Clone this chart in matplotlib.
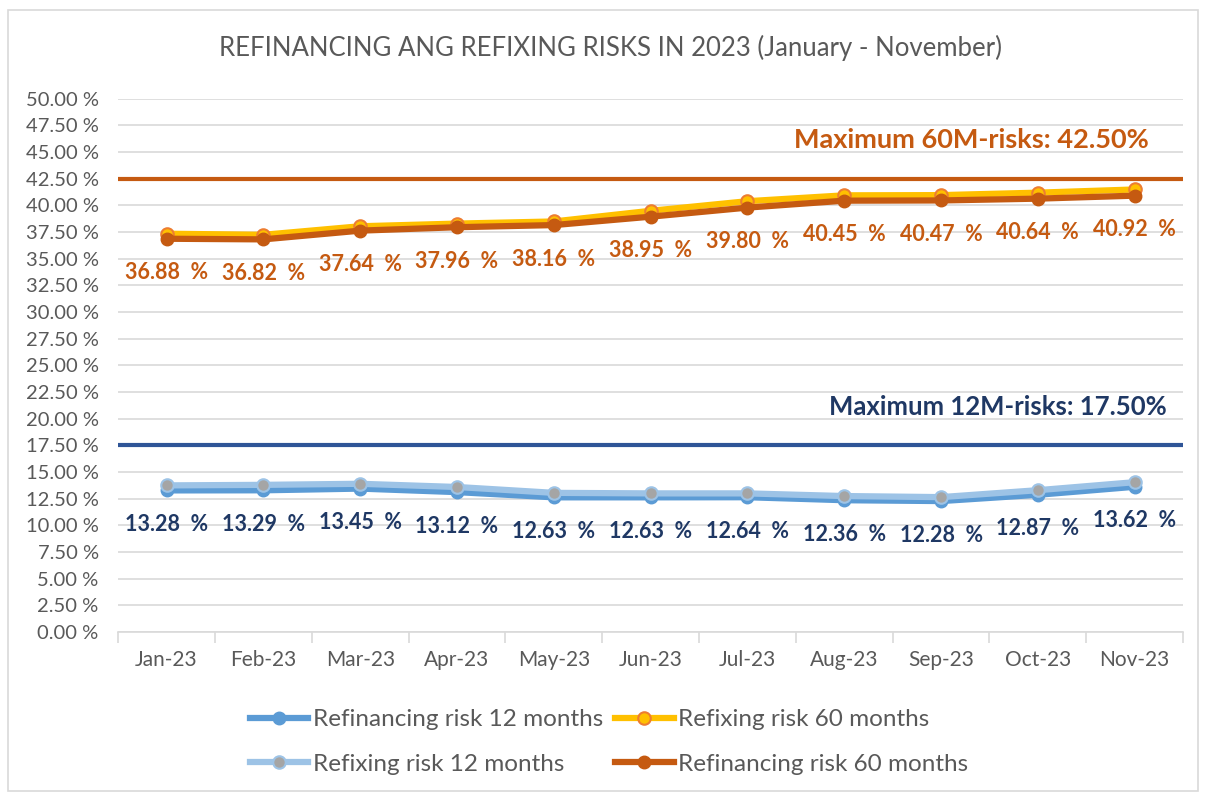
import matplotlib
matplotlib.use("Agg")
import matplotlib.pyplot as plt
from matplotlib.patches import Rectangle

plt.rcParams['font.family'] = ['Lato', 'DejaVu Sans']

months = ["Jan-23", "Feb-23", "Mar-23", "Apr-23", "May-23", "Jun-23",
          "Jul-23", "Aug-23", "Sep-23", "Oct-23", "Nov-23"]
refin_12 = [13.28, 13.29, 13.45, 13.12, 12.63, 12.63, 12.64, 12.36, 12.28, 12.87, 13.62]
refix_12 = [13.75, 13.80, 13.90, 13.60, 13.05, 13.00, 13.00, 12.75, 12.65, 13.30, 14.05]
refix_60 = [37.35, 37.25, 38.05, 38.30, 38.50, 39.50, 40.40, 40.95, 40.97, 41.20, 41.50]
refin_60 = [36.88, 36.82, 37.64, 37.96, 38.16, 38.95, 39.80, 40.45, 40.47, 40.64, 40.92]
max_12 = 17.50
max_60 = 42.50
yticks = [i * 2.5 for i in range(21)]

fig = plt.figure(figsize=(12.06, 7.97), dpi=100)
ax = fig.add_axes([0.098, 0.207, 0.883, 0.669])

# chart border
fig.patches.append(Rectangle((0.007, 0.008), 0.986, 0.98, transform=fig.transFigure,
                             fill=False, edgecolor="#d9d9d9", lw=1.2))

x = list(range(len(months)))

ax.axhline(max_12, color="#2f5597", lw=3, zorder=3)
ax.axhline(max_60, color="#c55a11", lw=3, zorder=3)

l1, = ax.plot(x, refin_12, color="#5b9bd5", lw=4.5, marker="o", ms=9,
              mfc="#5b9bd5", mec="#5b9bd5", zorder=4, label="Refinancing risk 12 months")
l2, = ax.plot(x, refix_12, color="#9dc3e6", lw=4.5, marker="o", ms=9,
              mfc="#a5a5a5", mec="#9dc3e6", mew=1.5, zorder=5, label="Refixing risk 12 months")
l3, = ax.plot(x, refix_60, color="#ffc000", lw=4.5, marker="o", ms=9,
              mfc="#ffc000", mec="#ed7d31", mew=1.5, zorder=4, label="Refixing risk 60 months")
l4, = ax.plot(x, refin_60, color="#c55a11", lw=4.5, marker="o", ms=9,
              mfc="#c55a11", mec="#c55a11", zorder=5, label="Refinancing risk 60 months")

for xi, v in zip(x, refin_12):
    ax.annotate(f"{v:.2f}  %", (xi, v), xytext=(0, -24.5), textcoords="offset points",
                ha="center", va="center", fontsize=15.5, fontweight="bold", color="#1f3864")
for xi, v in zip(x, refin_60):
    ax.annotate(f"{v:.2f}  %", (xi, v), xytext=(0, -24.5), textcoords="offset points",
                ha="center", va="center", fontsize=15.5, fontweight="bold", color="#c55a11")

ax.text(0.968, max_60 + 3.6, "Maximum 60M-risks: 42.50%", transform=ax.get_yaxis_transform(),
        ha="right", va="center", fontsize=19.5, fontweight="bold", color="#c55a11")
ax.text(0.985, max_12 + 3.6, "Maximum 12M-risks: 17.50%", transform=ax.get_yaxis_transform(),
        ha="right", va="center", fontsize=18.5, fontweight="bold", color="#1f3864")

ax.set_xlim(-0.5, len(months) - 0.5)
ax.set_ylim(0, 50)
ax.set_yticks(yticks)
ax.set_yticklabels([f"{t:.2f} %" for t in yticks])
ax.grid(axis="y", color="#d9d9d9", lw=1.2, zorder=0)
ax.set_axisbelow(True)
ax.set_xticks(x)
ax.set_xticklabels(months)
ax.set_xticks([i - 0.5 for i in range(len(months) + 1)], minor=True)
ax.tick_params(axis="x", which="major", length=0, pad=13, labelsize=15, labelcolor="#595959")
ax.tick_params(axis="x", which="minor", length=8, color="#d9d9d9", width=1.2)
ax.tick_params(axis="y", length=0, pad=14, labelsize=14.5, labelcolor="#595959")
for s in ["top", "right", "left"]:
    ax.spines[s].set_visible(False)
ax.spines["bottom"].set_color("#d9d9d9")
ax.spines["bottom"].set_linewidth(1.2)

fig.text(0.506, 0.94, "REFINANCING ANG REFIXING RISKS IN 2023 (January - November)",
         ha="center", va="center", fontsize=18.5, color="#595959")

fig.legend(handles=[l1, l2, l3, l4], ncol=2, loc="center", bbox_to_anchor=(0.505, 0.069),
           frameon=False, fontsize=17.5, labelcolor="#595959", handlelength=2.4,
           handletextpad=0.2, columnspacing=0.5, labelspacing=0.95)

fig.savefig("out.png", dpi=100)
